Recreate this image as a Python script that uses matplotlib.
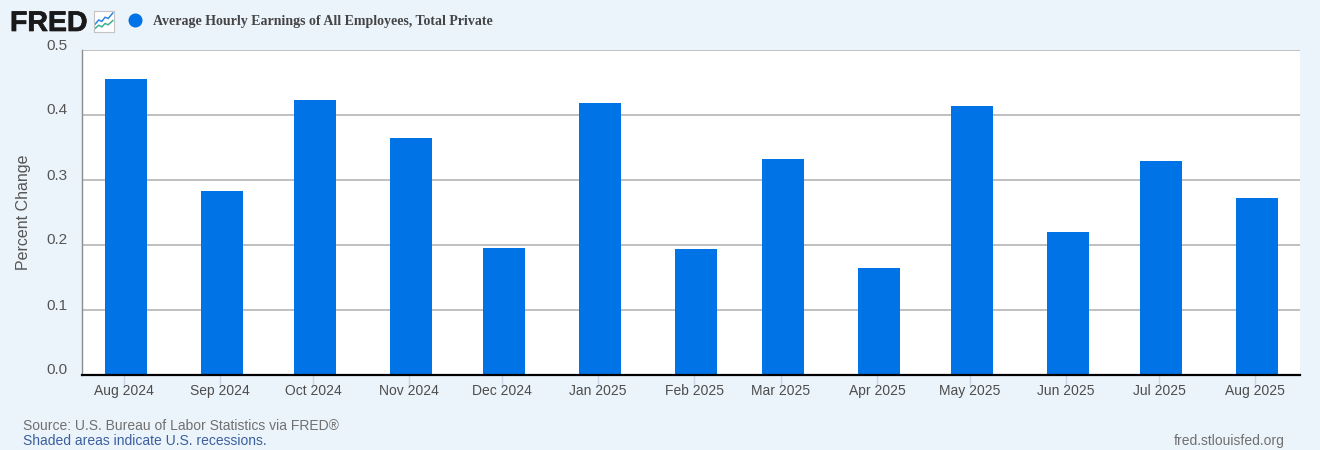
import pandas as pd
import matplotlib
matplotlib.use("Agg")
import matplotlib.pyplot as plt
import matplotlib.patheffects as pe
from matplotlib.patches import Circle
from matplotlib.transforms import ScaledTranslation

# monthly percent change
months = ['2024-08-01', '2024-09-01', '2024-10-01', '2024-11-01', '2024-12-01', '2025-01-01', '2025-02-01',
          '2025-03-01', '2025-04-01', '2025-05-01', '2025-06-01', '2025-07-01', '2025-08-01']
values = [0.455, 0.283, 0.423, 0.365, 0.195, 0.418, 0.194, 0.332, 0.165, 0.414, 0.220, 0.329, 0.272]
y_ticks = [0.0, 0.1, 0.2, 0.3, 0.4, 0.5]

# little chart icon next to the logo
icon_x = [0.08, 0.25, 0.4, 0.55, 0.7, 0.92]
icon_blue = [0.35, 0.55, 0.48, 0.68, 0.62, 0.88]
icon_green = [0.15, 0.3, 0.22, 0.38, 0.32, 0.52]

title = 'Average Hourly Earnings of All Employees, Total Private'
bg = '#ebf3fb'
blue = '#0073e6'
W, H = 1320, 450

plt.rcParams['font.family'] = ['Liberation Sans', 'DejaVu Sans']

fig = plt.figure(figsize=(W / 100, H / 100), dpi=100, facecolor=bg)
ax = fig.add_axes([82 / W, (H - 375) / H, 1218 / W, 325 / H])

dates = pd.to_datetime(months)
ax.bar(dates, values, width=13.55, color=blue, zorder=3)

ax.set_xlim(dates[0] - pd.Timedelta(days=14.2), dates[-1] + pd.Timedelta(days=13.9))
ax.set_ylim(0, 0.5)

# ticks sit a little left of the bar centres in the original
ax.set_xticks(dates - pd.Timedelta(days=0.6))
ax.set_xticklabels(dates.strftime('%b %Y'))
ax.tick_params(axis='x', length=7.5, width=1, color='#ccd6eb', labelsize=10, labelcolor='#4d4d4d', pad=-1)

ax.set_yticks(y_ticks)
ax.set_yticklabels([f'{v:.1f}' for v in y_ticks])
ax.tick_params(axis='y', length=0, labelsize=11, labelcolor='#555555', pad=10.7)
shift = ScaledTranslation(0, 6 / 100, fig.dpi_scale_trans)
for lab in ax.get_yticklabels():
    lab.set_transform(lab.get_transform() + shift)

ax.grid(axis='y', color='#c0c0c0', linewidth=1.4, zorder=1)
ax.set_axisbelow(True)

for s in ['top', 'right']:
    ax.spines[s].set_visible(False)
ax.spines['left'].set_color('#8c8c8c')
ax.spines['left'].set_linewidth(1)
ax.spines['bottom'].set_color('black')
ax.spines['bottom'].set_linewidth(1.6)
ax.spines['bottom'].set_zorder(5)

fig.text(24 / W, 1 - 212 / H, 'Percent Change', rotation=90, ha='center', va='center',
         fontsize=11.5, color='#555555')

# header
logo = fig.text(10 / W, 1 - 24 / H, 'FRED', fontsize=20.5, fontweight='bold', color='#1a1a1a', va='center', ha='left')
logo.set_path_effects([pe.withStroke(linewidth=0.5, foreground='#1a1a1a')])
fig.text(153 / W, 1 - 21 / H, title, fontsize=10.03, fontweight='bold', color='#444444', va='center',
         ha='left', family=['Liberation Serif', 'DejaVu Serif'])
fig.add_artist(Circle((135.5, H - 20.5), 7, transform=None, facecolor=blue, edgecolor='none'))

icon = fig.add_axes([93.5 / W, (H - 31.5) / H, 21 / W, 21 / H])
icon.plot(icon_x, icon_blue, color='#2f86e0', lw=1.1)
icon.plot(icon_x, icon_green, color='#3fb08f', lw=1.1)
icon.set_xlim(0, 1)
icon.set_ylim(0, 1)
icon.set_xticks([])
icon.set_yticks([])
for s in icon.spines.values():
    s.set_color('#c4c4c4')
    s.set_linewidth(0.8)

# footer
fig.text(23 / W, 1 - 425.5 / H, 'Source: U.S. Bureau of Labor Statistics via FRED®', fontsize=10, color='#707070',
         va='center', ha='left')
fig.text(23 / W, 1 - 441 / H, 'Shaded areas indicate U.S. recessions.', fontsize=10, color='#3b5f9e',
         va='center', ha='left')
fig.text(1285 / W, 1 - 441 / H, 'fred.stlouisfed.org', fontsize=10, color='#707070', va='center', ha='right')

fig.savefig('out.png', dpi=100, facecolor=bg)
